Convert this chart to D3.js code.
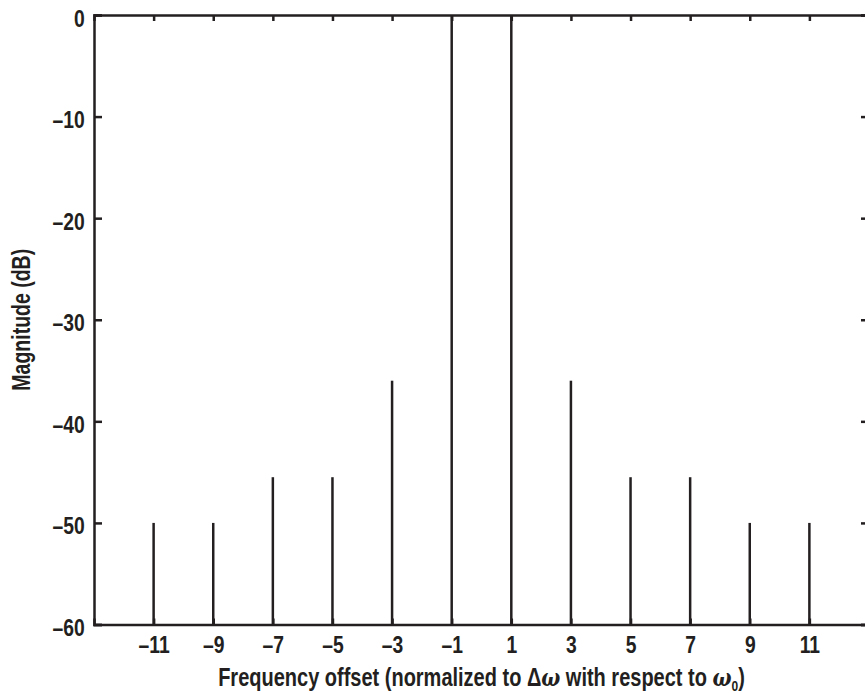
<!DOCTYPE html>
<html>
<head>
<meta charset="utf-8">
<script src="https://cdn.jsdelivr.net/npm/d3@7"></script>
<style>
  body { margin: 0; background: #fff; }
  text { font-family: "Liberation Sans", Arial, sans-serif; font-weight: bold; fill: #231f20; }
</style>
</head>
<body>
<script>
// spectral lines, offset in units of delta-omega
var offsets = [-11, -9, -7, -5, -3, -1, 1, 3, 5, 7, 9, 11];
var magnitudes = [-50, -50, -45.5, -45.5, -36, 0, 0, -36, -45.5, -45.5, -50, -50];
var xTicks = [-11, -9, -7, -5, -3, -1, 1, 3, 5, 7, 9, 11];
var yTicks = [0, -10, -20, -30, -40, -50, -60];

var width = 865, height = 693;
var ink = '#231f20';
var squeeze = 'scale(0.84,1)'; // fake a condensed face

var x = d3.scaleLinear().domain([-13, 13]).range([94, 869]);
var y = d3.scaleLinear().domain([-60, 0]).range([624.5, 15]);

var svg = d3.select('body').append('svg')
  .attr('width', width)
  .attr('height', height);

function fmt(d) {
  return d < 0 ? '\u2013' + Math.abs(d) : '' + d;
}

// bottom axis with labels
var gx = svg.append('g')
  .attr('transform', 'translate(0,' + y(-60) + ')')
  .call(d3.axisBottom(x).tickValues(xTicks).tickSize(-6).tickPadding(12).tickFormat(fmt));

// top axis, ticks only
var gxTop = svg.append('g')
  .attr('transform', 'translate(0,' + y(0) + ')')
  .call(d3.axisTop(x).tickValues(xTicks).tickSize(-6).tickFormat(''));

// left axis with labels
var gy = svg.append('g')
  .attr('transform', 'translate(' + x(-13) + ',0)')
  .call(d3.axisLeft(y).tickValues(yTicks).tickSize(-8).tickPadding(11).tickFormat(fmt));

// right axis, ticks only
var gyRight = svg.append('g')
  .attr('transform', 'translate(' + x(13) + ',0)')
  .call(d3.axisRight(y).tickValues(yTicks).tickSize(-8).tickFormat(''));

[gx, gxTop, gy, gyRight].forEach(function(g) {
  g.select('.domain').attr('stroke', ink).attr('stroke-width', 2.5);
  g.selectAll('.tick line').attr('stroke', ink).attr('stroke-width', 2.5);
  g.selectAll('.tick text').attr('font-size', 23).attr('fill', ink)
    .attr('transform', squeeze)
    .style('font-family', '"Liberation Sans", Arial, sans-serif')
    .style('font-weight', 'bold');
});
gy.selectAll('.tick text').attr('dy', '0.48em');

// stems
svg.append('g').selectAll('line')
  .data(offsets)
  .join('line')
  .attr('x1', function(d) { return x(d); })
  .attr('x2', function(d) { return x(d); })
  .attr('y1', y(-60))
  .attr('y2', function(d, i) { return y(magnitudes[i]); })
  .attr('stroke', ink)
  .attr('stroke-width', 2.5);

// axis titles
var xt = svg.append('g')
  .attr('transform', 'translate(' + x(0) + ',686) scale(0.8,1)')
  .append('text')
  .attr('text-anchor', 'middle')
  .attr('font-size', 25);
xt.append('tspan').text('Frequency offset (normalized to \u0394');
xt.append('tspan').style('font-style', 'italic').style('font-family', '"DejaVu Serif", serif').text('\u03c9');
xt.append('tspan').text(' with respect to ');
xt.append('tspan').style('font-style', 'italic').style('font-family', '"DejaVu Serif", serif').text('\u03c9');
xt.append('tspan').attr('font-size', 15).attr('dy', 5).text('0');
xt.append('tspan').attr('dy', -5).text(')');

svg.append('g')
  .attr('transform', 'translate(30,' + ((y(0) + y(-60)) / 2) + ') rotate(-90) scale(0.78,1)')
  .append('text')
  .attr('text-anchor', 'middle')
  .attr('font-size', 25)
  .text('Magnitude (dB)');
</script>
</body>
</html>
